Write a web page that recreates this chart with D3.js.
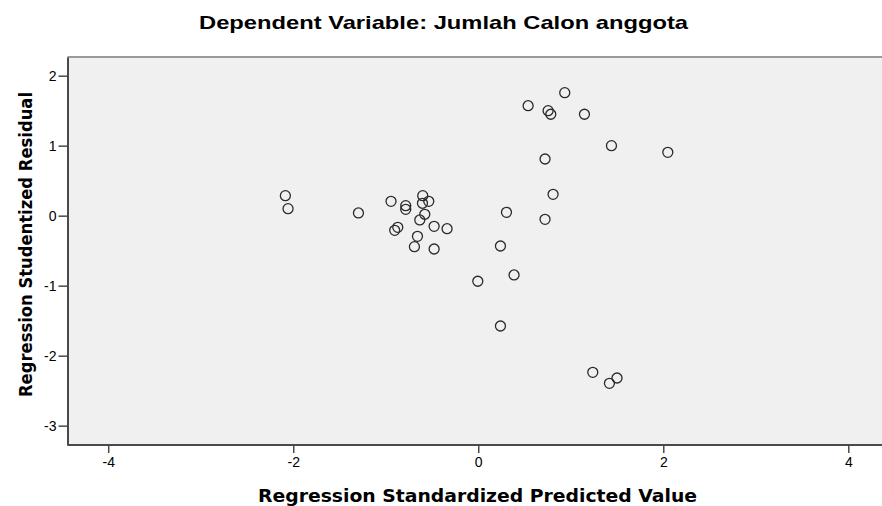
<!DOCTYPE html>
<html>
<head>
<meta charset="utf-8">
<script src="https://cdn.jsdelivr.net/npm/d3@7"></script>
<style>
  body { margin: 0; background: #fff; }
  text { fill: #000; }
</style>
</head>
<body>
<script>
// regression residual plot (SPSS style)

// data
var predicted = [0.935, 0.539, 0.755, 0.784, 1.148, 1.44, 2.049, 0.722, 0.809, -2.085,
  -2.056, -1.295, -0.943, -0.784, -0.784, -0.6, -0.603, -0.535, -0.578, -0.632,
  -0.477, -0.337, -0.87, -0.903, -0.657, -0.69, -0.477, 0.305, 0.722, 0.24,
  -0.005, 0.387, 0.24, 1.238, 1.5, 1.418];
var residual = [1.757, 1.571, 1.5, 1.449, 1.449, 1.0, 0.905, 0.81, 0.305, 0.286,
  0.10, 0.039, 0.205, 0.143, 0.091, 0.286, 0.177, 0.205, 0.02, -0.061,
  -0.152, -0.186, -0.166, -0.209, -0.295, -0.443, -0.476, 0.048, -0.052, -0.433,
  -0.937, -0.847, -1.576, -2.238, -2.319, -2.395];
var xTicks = [-4, -2, 0, 2, 4];
var yTicks = [-3, -2, -1, 0, 1, 2];

var titleText = 'Dependent Variable: Jumlah Calon anggota';
var xTitle = 'Regression Standardized Predicted Value';
var yTitle = 'Regression Studentized Residual';

var points = predicted.map(function(d, i) { return {x: d, y: residual[i]}; });

var W = 882, H = 506;
var plotLeft = 67.5, plotTop = 57, plotBottom = 445, plotRight = 889;

var svg = d3.select('body').append('svg').attr('width', W).attr('height', H);

var x = d3.scaleLinear().domain([-4.44, 4.44]).range([plotLeft, plotRight]);
var y = d3.scaleLinear().domain([-3.276, 2.267]).range([plotBottom, plotTop]);

// plot background
svg.append('rect')
  .attr('x', plotLeft).attr('y', plotTop)
  .attr('width', plotRight - plotLeft).attr('height', plotBottom - plotTop)
  .attr('fill', '#f0f0f0');

// top border (lighter)
svg.append('line')
  .attr('x1', plotLeft).attr('x2', plotRight).attr('y1', plotTop).attr('y2', plotTop)
  .attr('stroke', '#9a9a9a').attr('stroke-width', 2);

var fmt = function(d) { return String(d); }; // plain hyphen minus like SPSS

// axes
var xAxis = svg.append('g').attr('transform', 'translate(0,' + plotBottom + ')')
  .call(d3.axisBottom(x).tickValues(xTicks).tickFormat(fmt).tickSize(8).tickPadding(4).tickSizeOuter(0));
var yAxis = svg.append('g').attr('transform', 'translate(' + plotLeft + ',0)')
  .call(d3.axisLeft(y).tickValues(yTicks).tickFormat(fmt).tickSize(9).tickPadding(2).tickSizeOuter(0));

[xAxis, yAxis].forEach(function(g) {
  g.select('.domain').attr('stroke', '#4a4a4a').attr('stroke-width', 2);
  g.selectAll('.tick line').attr('stroke', '#4a4a4a').attr('stroke-width', 1.5);
  g.selectAll('.tick text')
    .attr('fill', '#000')
    .style('font-family', '"Liberation Sans Narrow", "Liberation Sans", Arial, sans-serif')
    .style('font-size', '14px');
});
xAxis.select('.domain').attr('d', 'M' + plotLeft + ',0H' + plotRight);

// points
svg.append('g').selectAll('circle').data(points).enter().append('circle')
  .attr('cx', function(d) { return x(d.x); })
  .attr('cy', function(d) { return y(d.y); })
  .attr('r', 5)
  .attr('fill', 'none')
  .attr('stroke', '#2a2a2a')
  .attr('stroke-width', 1.3);

// titles
svg.append('text')
  .attr('x', 199).attr('y', 29)
  .attr('textLength', 489).attr('lengthAdjust', 'spacingAndGlyphs')
  .style('font-family', '"Liberation Sans", Arial, sans-serif')
  .style('font-weight', 'bold').style('font-size', '19px')
  .text(titleText);

svg.append('text')
  .attr('x', 258).attr('y', 502)
  .attr('textLength', 439).attr('lengthAdjust', 'spacingAndGlyphs')
  .style('font-family', '"DejaVu Sans", Verdana, sans-serif')
  .style('font-weight', 'bold').style('font-size', '18px')
  .text(xTitle);

svg.append('text')
  .attr('transform', 'translate(32,397) rotate(-90)')
  .attr('textLength', 305).attr('lengthAdjust', 'spacingAndGlyphs')
  .style('font-family', '"DejaVu Sans", Verdana, sans-serif')
  .style('font-weight', 'bold').style('font-size', '18px')
  .text(yTitle);
</script>
</body>
</html>
